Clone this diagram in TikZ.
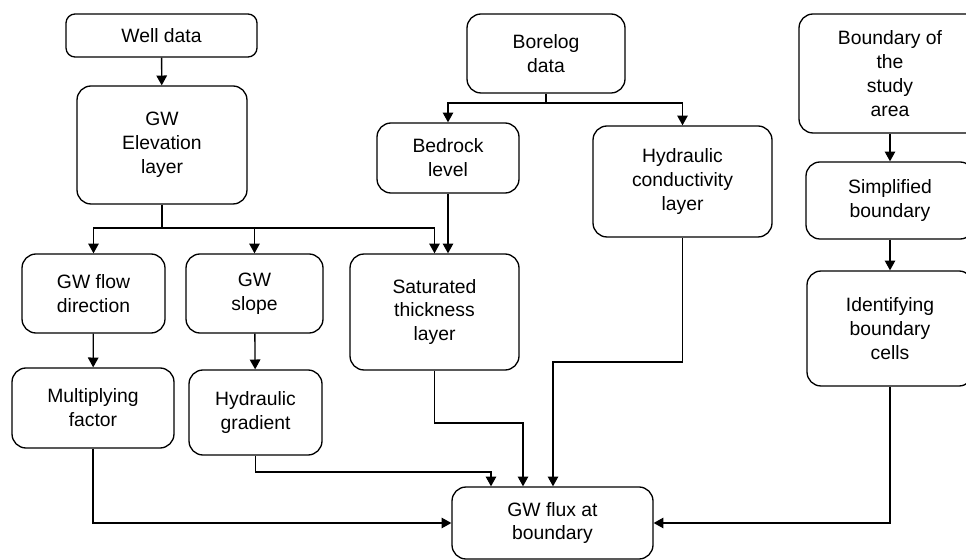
\documentclass[tikz,border=0pt]{standalone}
\usepackage{fontspec}
\setmainfont{Liberation Sans}
\usepackage{tikz}
\usetikzlibrary{arrows.meta,calc,positioning}

\begin{document}
\begin{tikzpicture}[x=0.02cm, y=-0.02cm, line width=0.75pt,
  box/.style={draw, rounded corners=0.28cm, align=center, inner sep=1pt,
    font=\fontsize{11}{13.6}\selectfont},
  >={Triangle[length=5.6pt,width=6pt]}]

\useasboundingbox (0,0) rectangle (966,560);

% Colonna sinistra
\node[box, minimum width=3.82cm, minimum height=0.86cm, rounded corners=0.18cm] (well) at (161.5,35.5) {Well data};
\node[box, minimum width=3.40cm, minimum height=2.36cm] (elev) at (162,145) {GW\\Elevation\\layer};
\node[box, minimum width=2.86cm, minimum height=1.58cm] (flow) at (93.5,293.5) {GW flow\\direction};
\node[box, minimum width=2.74cm, minimum height=1.58cm] (slope) at (254.5,293.5) {GW\\slope};
\node[box, minimum width=3.24cm, minimum height=1.60cm] (mult) at (93,408) {Multiplying\\factor};
\node[box, minimum width=2.66cm, minimum height=1.70cm] (grad) at (255.5,412.5) {Hydraulic\\gradient};

% Colonna centrale
\node[box, minimum width=3.16cm, minimum height=1.58cm] (bore) at (546,53.5) {Borelog\\data};
\node[box, minimum width=2.84cm, minimum height=1.40cm] (bed) at (448,158) {Bedrock\\level};
\node[box, minimum width=3.58cm, minimum height=2.22cm] (hcond) at (682.5,181.5) {Hydraulic\\conductivity\\layer};
\node[box, minimum width=3.38cm, minimum height=2.32cm] (sat) at (434.5,312) {Saturated\\thickness\\layer};
\node[box, minimum width=4.02cm, minimum height=1.44cm] (flux) at (552.5,523) {GW flux at\\boundary};

% Colonna destra
\node[box, minimum width=3.64cm, minimum height=2.38cm] (bnd) at (890,73.5) {Boundary of\\the\\study\\area};
\node[box, minimum width=3.36cm, minimum height=1.54cm] (simp) at (890,200.5) {Simplified\\boundary};
\node[box, minimum width=3.32cm, minimum height=2.30cm] (ident) at (890,328.5) {Identifying\\boundary\\cells};

% Punti di diramazione
\coordinate (eb) at (162,228);
\coordinate (bb) at (546,103);
\coordinate (g1) at (491,472);
\coordinate (s1) at (523,423);
\coordinate (h1) at (553,362);

% Frecce
\draw[->] (well) -- (elev);
\draw (elev.south) -- (eb);
\draw[->] (eb) -| (flow.north);
\draw[->] (eb) -| (slope.north);
\draw[->] (eb) -| (sat.north);
\draw[->] (flow) -- (mult);
\draw[->] (slope) -- (grad);

\draw (bore.south) -- (bb);
\draw[->] (bb) -| (bed.north);
\draw[->] (bb) -| (hcond.north);
\draw[->] (bed.south) -- (bed.south |- sat.north);

\draw[->] (bnd) -- (simp);
\draw[->] (simp) -- (ident);

\draw[->] (mult.south) |- (flux.west);
\draw[->] (grad.south) |- (g1) -- (g1 |- flux.north);
\draw[->] (sat.south) |- (s1) -- (s1 |- flux.north);
\draw[->] (hcond.south) |- (h1) -- (h1 |- flux.north);
\draw[->] (ident.south) |- (flux.east);

\end{tikzpicture}
\end{document}
